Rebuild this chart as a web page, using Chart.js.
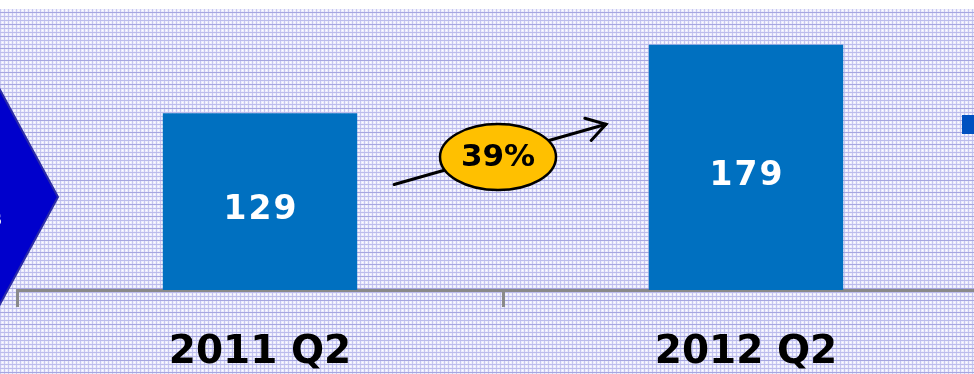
<!DOCTYPE html>
<html>
<head>
<meta charset="utf-8">
<script src="https://cdn.jsdelivr.net/npm/chart.js@4.4.1/dist/chart.umd.min.js"></script>
<style>
  html, body { margin: 0; padding: 0; width: 974px; height: 374px; overflow: hidden; background: #fff; }
  #wrap { position: absolute; left: 0; top: 0; width: 1000px; height: 374px; }
</style>
</head>
<body>
<div id="wrap"><canvas id="c" width="1000" height="374"></canvas></div>
<script>
const categories = ['2011 Q2', '2012 Q2'];
const values = [129, 179];
const growthLabel = '39%';
const barColor = '#0070C0';

// background grid pattern tile
function makePattern(ctx) {
  const t = document.createElement('canvas');
  t.width = 4; t.height = 12;
  const g = t.getContext('2d');
  g.fillStyle = '#ececfc'; g.fillRect(0, 0, 4, 12);
  g.fillStyle = '#c6c6f0';
  for (let y = 0; y < 12; y++) g.fillRect(0, y, 1, 1);
  g.fillStyle = '#bcbcec';
  for (let y = 0; y < 12; y += 4) g.fillRect(0, y, 4, 1);
  g.fillStyle = '#a6a6e0';
  g.fillRect(0, 0, 4, 1);
  g.fillStyle = '#ffffff';
  g.fillRect(2, 2, 1, 1); g.fillRect(2, 6, 1, 1); g.fillRect(2, 10, 1, 1);
  return ctx.createPattern(t, 'repeat');
}

const backgroundPlugin = {
  id: 'bg',
  beforeDraw(chart) {
    const ctx = chart.ctx;
    const W = chart.width, H = chart.height;
    ctx.save();
    ctx.fillStyle = '#ffffff';
    ctx.fillRect(0, 0, W, H);
    ctx.fillStyle = makePattern(ctx);
    ctx.fillRect(0, 9, W, H - 9);
    // left chevron (partial)
    ctx.beginPath();
    ctx.moveTo(-20, 53);
    ctx.lineTo(58, 197);
    ctx.lineTo(-20, 341);
    ctx.closePath();
    ctx.fillStyle = '#0000CC';
    ctx.fill();
    ctx.lineWidth = 2;
    ctx.strokeStyle = '#2b2ba6';
    ctx.stroke();
    ctx.fillStyle = '#ffffff';
    ctx.font = 'bold 20px "DejaVu Sans"';
    ctx.textAlign = 'right';
    ctx.textBaseline = 'middle';
    ctx.fillText('s', 2, 220);
    // right edge marker square
    ctx.fillStyle = '#0050C0';
    ctx.fillRect(962, 115, 20, 19);
    ctx.restore();
  }
};

const labelPlugin = {
  id: 'labels',
  afterDatasetsDraw(chart) {
    const ctx = chart.ctx;
    const meta = chart.getDatasetMeta(0);
    ctx.save();
    ctx.fillStyle = '#ffffff';
    ctx.font = 'bold 33px "DejaVu Sans"';
    ctx.textAlign = 'center';
    ctx.textBaseline = 'middle';
    try { ctx.letterSpacing = '2px'; } catch (e) {}
    meta.data.forEach((bar, i) => {
      const cy = (bar.y + bar.base) / 2 + 9;
      ctx.fillText(String(values[i]), bar.x + 1, cy);
    });
    ctx.restore();

    // growth arrow + ellipse
    const xs = chart.scales.x, ys = chart.scales.y;
    const x0 = xs.getPixelForValue(0), x1 = xs.getPixelForValue(1);
    const w = x1 - x0;
    const sx = x0 + w * 0.276, sy = ys.getPixelForValue(77);
    const ex = x1 - w * 0.288, ey = ys.getPixelForValue(121);
    ctx.save();
    ctx.strokeStyle = '#000';
    ctx.lineWidth = 3;
    ctx.lineCap = 'round';
    ctx.lineJoin = 'miter';
    ctx.beginPath();
    ctx.moveTo(sx, sy); ctx.lineTo(ex, ey); ctx.stroke();
    const ang = Math.atan2(ey - sy, ex - sx);
    const hl = 22;
    ctx.beginPath();
    ctx.moveTo(ex + hl * Math.cos(ang + Math.PI - 0.55), ey + hl * Math.sin(ang + Math.PI - 0.55));
    ctx.lineTo(ex, ey);
    ctx.lineTo(ex + hl * Math.cos(ang + Math.PI + 0.55), ey + hl * Math.sin(ang + Math.PI + 0.55));
    ctx.stroke();
    const cx = (x0 + x1) / 2 - 5, cy = ys.getPixelForValue(97);
    ctx.beginPath();
    ctx.ellipse(cx, cy, 58, 33, 0, 0, Math.PI * 2);
    ctx.fillStyle = '#FFC000';
    ctx.fill();
    ctx.lineWidth = 2.5;
    ctx.stroke();
    ctx.fillStyle = '#000';
    ctx.font = 'bold 31px "DejaVu Sans"';
    ctx.textAlign = 'center';
    ctx.textBaseline = 'middle';
    ctx.fillText(growthLabel, cx, cy + 1);
    ctx.restore();
  }
};

new Chart(document.getElementById('c'), {
  type: 'bar',
  data: {
    labels: categories,
    datasets: [{
      data: values,
      backgroundColor: barColor,
      borderWidth: 0,
      barPercentage: 0.4,
      categoryPercentage: 1.0
    }]
  },
  options: {
    responsive: false,
    devicePixelRatio: 1,
    animation: false,
    events: [],
    layout: { padding: { left: 17, right: 11, top: 16, bottom: 0 } },
    plugins: { legend: { display: false }, tooltip: { enabled: false } },
    scales: {
      x: {
        offset: true,
        border: { display: true, color: '#8a8a8a', width: 3 },
        grid: { offset: true, drawOnChartArea: false, drawTicks: true, tickLength: 17, color: '#8a8a8a', lineWidth: 3 },
        ticks: { color: '#000', font: { family: 'DejaVu Sans', weight: 'bold', size: 39 }, padding: 22, maxRotation: 0 },
        afterFit: (s) => { s.height = 84; }
      },
      y: { display: false, min: 0, max: 200 }
    }
  },
  plugins: [backgroundPlugin, labelPlugin]
});
</script>
</body>
</html>
